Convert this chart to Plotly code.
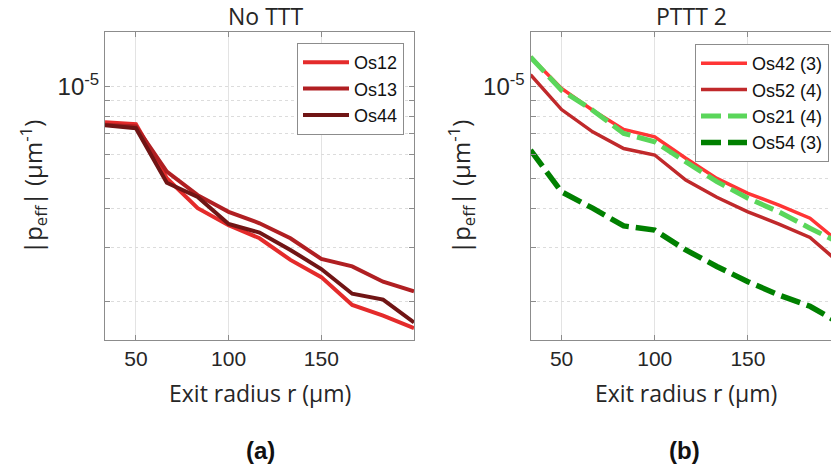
import plotly.graph_objects as go

# ---- data ----
radius = [33.33, 50, 66.67, 83.33, 100, 116.67, 133.33, 150, 166.67, 183.33, 200]

os12 = [7.64e-6, 7.53e-6, 5.03e-6, 4.02e-6, 3.54e-6, 3.21e-6, 2.73e-6, 2.40e-6, 1.95e-6, 1.80e-6, 1.64e-6]
os13 = [7.50e-6, 7.40e-6, 5.28e-6, 4.43e-6, 3.91e-6, 3.59e-6, 3.21e-6, 2.75e-6, 2.60e-6, 2.32e-6, 2.16e-6]
os44 = [7.47e-6, 7.31e-6, 4.86e-6, 4.37e-6, 3.57e-6, 3.35e-6, 2.94e-6, 2.55e-6, 2.12e-6, 2.03e-6, 1.71e-6]

os42 = [12.44e-6, 9.83e-6, 8.36e-6, 7.24e-6, 6.85e-6, 5.84e-6, 5.02e-6, 4.49e-6, 4.11e-6, 3.73e-6, 3.08e-6]
os52 = [10.90e-6, 8.40e-6, 7.11e-6, 6.28e-6, 5.98e-6, 4.96e-6, 4.36e-6, 3.91e-6, 3.57e-6, 3.23e-6, 2.64e-6]
os21 = [12.44e-6, 9.70e-6, 8.36e-6, 7.03e-6, 6.60e-6, 5.68e-6, 4.90e-6, 4.33e-6, 3.91e-6, 3.46e-6, 3.08e-6]
os54 = [6.20e-6, 4.54e-6, 4.02e-6, 3.52e-6, 3.41e-6, 2.94e-6, 2.60e-6, 2.32e-6, 2.10e-6, 1.93e-6, 1.69e-6]

x_ticks = [50, 100, 150]
y_ticks = [2e-6, 3e-6, 4e-6, 5e-6, 6e-6, 7e-6, 8e-6, 9e-6, 1e-5]
y_ticktext = [""] * 8 + ["10<sup>-5</sup>"]

titles = ["No TTT", "PTTT 2"]
x_title = "Exit radius r (µm)"
y_title = "|p<sub>eff</sub>| (µm<sup>-1</sup>)"
panel_labels = ["(a)", "(b)"]

W, H = 831, 471
TXT = "#262626"
SANS = "Liberation Sans, Arial, sans-serif"
LBL = "Open Sans, sans-serif"

fig = go.Figure()

left_series = [("Os12", os12, "#e42b2b"), ("Os13", os13, "#b01f22"), ("Os44", os44, "#701515")]
for name, vals, col in left_series:
    fig.add_trace(go.Scatter(x=radius, y=vals, name=name, mode="lines",
                             line=dict(color=col, width=4), xaxis="x", yaxis="y", legend="legend"))

right_series = [
    ("Os42 (3)", os42, "#ff3535", 3.5, "solid"),
    ("Os52 (4)", os52, "#c0292b", 3.5, "solid"),
    ("Os21 (4)", os21, "#5ad65a", 5, "20px,7px"),
    ("Os54 (3)", os54, "#008000", 5.5, "20px,7px"),
]
for name, vals, col, w, dash in right_series:
    fig.add_trace(go.Scatter(x=radius, y=vals, name=name, mode="lines",
                             line=dict(color=col, width=w, dash=dash), xaxis="x2", yaxis="y2", legend="legend2"))

def px_x(p):
    return p / W

def px_y(p):
    return 1 - p / H

ydom = [px_y(340), px_y(32)]
axis_common = dict(showline=True, linecolor="#8c8c8c", linewidth=1, ticks="inside", ticklen=5,
                   tickcolor="#8c8c8c", tickfont=dict(family=SANS, size=21, color=TXT),
                   zeroline=False)
xcommon = dict(axis_common, tickvals=x_ticks, showgrid=True, gridcolor="#e3e3e3", gridwidth=1)
ycommon = dict(axis_common, type="log", range=[-5.8239, -4.8239], tickvals=y_ticks, ticktext=y_ticktext,
               showgrid=True, gridcolor="#dcdcdc", griddash="dot", gridwidth=1)
ycommon["tickfont"] = dict(family=SANS, size=24, color=TXT)

legend_common = dict(xanchor="left", yanchor="top", bgcolor="white", bordercolor="#8c8c8c", borderwidth=1,
                     font=dict(family=SANS, size=18, color="#111111"), tracegroupgap=0, itemwidth=46)

fig.update_layout(
    width=W, height=H,
    margin=dict(l=0, r=0, t=0, b=0),
    paper_bgcolor="white", plot_bgcolor="white",
    xaxis=dict(xcommon, domain=[px_x(105), px_x(414)], range=[33.33, 200], anchor="y", mirror="ticks"),
    yaxis=dict(ycommon, domain=ydom, anchor="x", mirror="ticks"),
    xaxis2=dict(xcommon, domain=[px_x(530.5), 1.0], range=[33.33, 194.6], anchor="y2", mirror="ticks"),
    yaxis2=dict(ycommon, domain=ydom, anchor="x2"),
    legend=dict(legend_common, x=px_x(297), y=px_y(43)),
    legend2=dict(legend_common, x=px_x(695), y=px_y(44)),
    showlegend=True,
)

ann = []
for t, cx in zip(titles, [265, 691]):
    ann.append(dict(text=t, x=px_x(cx), y=px_y(16), xref="paper", yref="paper", showarrow=False,
                    xanchor="center", yanchor="middle", font=dict(family=LBL, size=23, color=TXT)))
for cx in [260, 686]:
    ann.append(dict(text=x_title, x=px_x(cx), y=px_y(393), xref="paper", yref="paper", showarrow=False,
                    xanchor="center", yanchor="middle", font=dict(family=LBL, size=23, color=TXT)))
for cx in [33, 461]:
    ann.append(dict(text=y_title, x=px_x(cx), y=px_y(187), xref="paper", yref="paper", showarrow=False,
                    textangle=-90, xanchor="center", yanchor="middle", font=dict(family=LBL, size=24, color=TXT)))
for t, cx in zip(panel_labels, [260, 684]):
    ann.append(dict(text="<b>" + t + "</b>", x=px_x(cx), y=px_y(450), xref="paper", yref="paper", showarrow=False,
                    xanchor="center", yanchor="middle", font=dict(family=SANS, size=24, color="#111111")))
fig.update_layout(annotations=ann)

fig.write_html("out.html", config={"displayModeBar": False},
               post_script="document.body.style.margin='0';document.body.style.padding='0';")
